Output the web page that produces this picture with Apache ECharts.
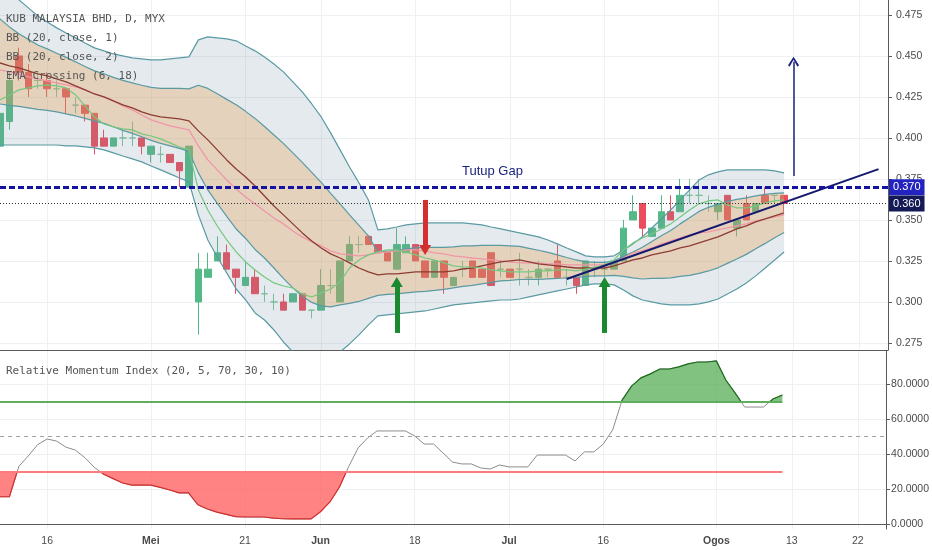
<!DOCTYPE html>
<html><head><meta charset="utf-8">
<script src="https://cdn.jsdelivr.net/npm/echarts@6/dist/echarts.min.js"></script>
<style>html,body{margin:0;padding:0;background:#fff}#c{width:932px;height:550px}</style>
</head><body><div id="c"></div>
<script>
const dates = ['2018-04-09','2018-04-10','2018-04-11','2018-04-12','2018-04-13','2018-04-16','2018-04-17','2018-04-18','2018-04-19','2018-04-20','2018-04-23','2018-04-24','2018-04-25','2018-04-26','2018-04-27','2018-04-30',
'2018-05-02','2018-05-03','2018-05-04','2018-05-07','2018-05-08','2018-05-14','2018-05-15','2018-05-16','2018-05-17','2018-05-18','2018-05-21','2018-05-22','2018-05-23','2018-05-24','2018-05-25','2018-05-28','2018-05-30','2018-05-31',
'2018-06-01','2018-06-04','2018-06-05','2018-06-06','2018-06-07','2018-06-08','2018-06-11','2018-06-12','2018-06-13','2018-06-14','2018-06-18','2018-06-19','2018-06-20','2018-06-21','2018-06-22','2018-06-25','2018-06-26','2018-06-27','2018-06-28','2018-06-29',
'2018-07-02','2018-07-03','2018-07-04','2018-07-05','2018-07-06','2018-07-09','2018-07-10','2018-07-11','2018-07-12','2018-07-13','2018-07-16','2018-07-17','2018-07-18','2018-07-19','2018-07-20','2018-07-23','2018-07-24','2018-07-25','2018-07-26','2018-07-27','2018-07-30','2018-07-31',
'2018-08-01','2018-08-02','2018-08-03','2018-08-06','2018-08-07','2018-08-08','2018-08-09','2018-08-10','2018-08-13','2018-08-14','2018-08-15','2018-08-16','2018-08-17','2018-08-20','2018-08-21','2018-08-22','2018-08-23','2018-08-24','2018-08-27'];
const tickDates = ['2018-04-16','2018-05-02','2018-05-21','2018-06-01','2018-06-18','2018-07-02','2018-07-16','2018-08-01','2018-08-13','2018-08-22'];
const tickLabels = ['16','Mei','21','Jun','18','Jul','16','Ogos','13','22'];
const priceTicks = [0.275,0.3,0.325,0.35,0.375,0.4,0.425,0.45,0.475];
const rmiTicks = [0,20,40,60,80];

const open = [0.395,0.41,0.45,0.44,0.435,0.435,0.43,0.43,0.42,0.42,
 0.415,0.40,0.395,0.40,0.40,0.40,0.39,0.39,0.39,0.385,
 0.37,0.30,0.315,0.325,0.33,0.32,0.31,0.315,0.305,0.30,
 0.30,0.30,0.305,0.295,0.295,0.31,0.30,0.325,0.335,0.34,
 0.335,0.33,0.32,0.33,0.335,0.325,0.315,0.325,0.31,0.32,
 0.325,0.32,0.33,0.32,0.32,0.32,0.315,0.315,0.32,0.325,
 0.315,0.315,0.31,0.32,0.32,0.32,0.325,0.35,0.36,0.34,
 0.345,0.355,0.355,0.365,0.365,0.36,0.355,0.365,0.345,0.36,
 0.355,0.365,0.365,0.365];
const close = [0.415,0.435,0.44,0.43,0.435,0.43,0.43,0.425,0.42,0.415,
 0.395,0.395,0.40,0.40,0.40,0.395,0.395,0.39,0.385,0.38,
 0.395,0.32,0.32,0.33,0.32,0.315,0.315,0.305,0.305,0.30,
 0.295,0.305,0.295,0.295,0.31,0.31,0.325,0.335,0.335,0.335,
 0.33,0.325,0.335,0.335,0.325,0.315,0.325,0.315,0.315,0.32,
 0.315,0.315,0.31,0.32,0.315,0.32,0.315,0.32,0.32,0.315,
 0.315,0.31,0.325,0.32,0.32,0.325,0.345,0.355,0.345,0.345,
 0.355,0.35,0.365,0.365,0.365,0.36,0.36,0.35,0.35,0.35,
 0.36,0.36,0.365,0.36];
const low = [0.39,0.405,0.435,0.425,0.43,0.425,0.425,0.415,0.415,0.41,
 0.39,0.395,0.395,0.395,0.395,0.39,0.385,0.385,0.385,0.37,
 0.37,0.28,0.315,0.325,0.32,0.305,0.31,0.305,0.30,0.295,
 0.295,0.30,0.295,0.29,0.295,0.305,0.30,0.325,0.33,0.335,
 0.33,0.325,0.32,0.33,0.325,0.315,0.315,0.305,0.31,0.315,
 0.315,0.315,0.31,0.315,0.315,0.31,0.31,0.31,0.315,0.315,
 0.31,0.305,0.31,0.315,0.315,0.32,0.325,0.35,0.34,0.34,
 0.345,0.35,0.355,0.36,0.36,0.355,0.35,0.35,0.34,0.35,
 0.355,0.36,0.36,0.355];
const high = [0.42,0.44,0.455,0.445,0.44,0.44,0.435,0.43,0.425,0.42,
 0.415,0.405,0.40,0.405,0.41,0.40,0.395,0.395,0.39,0.385,
 0.395,0.33,0.33,0.34,0.335,0.32,0.325,0.32,0.31,0.305,
 0.305,0.305,0.305,0.295,0.32,0.32,0.325,0.34,0.34,0.34,
 0.335,0.33,0.345,0.34,0.335,0.325,0.325,0.325,0.315,0.325,
 0.325,0.32,0.33,0.325,0.32,0.33,0.32,0.325,0.32,0.335,
 0.32,0.315,0.325,0.325,0.325,0.325,0.35,0.365,0.36,0.345,
 0.365,0.365,0.375,0.375,0.375,0.365,0.36,0.365,0.35,0.365,
 0.36,0.37,0.365,0.365];

const basis = [0.4457,0.4439,0.4427,0.4409,0.4390,0.4378,0.4360,0.4342,0.4317,0.4293,
 0.4268,0.4250,0.4226,0.4201,0.4183,0.4159,0.4140,0.4128,0.4122,0.4116,
 0.4104,0.4043,0.3988,0.3927,0.3866,0.3811,0.3762,0.3707,0.3646,0.3585,
 0.3531,0.3476,0.3421,0.3372,0.3329,0.3293,0.3268,0.3238,0.3207,0.3183,
 0.3165,0.3171,0.3171,0.3177,0.3183,0.3183,0.3183,0.3183,0.3189,0.3201,
 0.3207,0.3220,0.3232,0.3244,0.3250,0.3256,0.3244,0.3232,0.3226,0.3220,
 0.3213,0.3207,0.3207,0.3207,0.3207,0.3220,0.3238,0.3256,0.3268,0.3287,
 0.3299,0.3311,0.3329,0.3342,0.3360,0.3378,0.3397,0.3421,0.3445,0.3464,
 0.3488,0.3506,0.3525,0.3543];
const bb2Upper = [0.4994,0.4915,0.4842,0.4793,0.4744,0.4707,0.4671,0.4640,0.4610,0.4579,
 0.4549,0.4531,0.4512,0.4500,0.4488,0.4482,0.4476,0.4476,0.4482,0.4488,
 0.4494,0.4598,0.4616,0.4610,0.4604,0.4592,0.4561,0.4531,0.4494,0.4451,
 0.4403,0.4342,0.4281,0.4207,0.4128,0.4031,0.3927,0.3823,0.3726,0.3622,
 0.3439,0.3445,0.3457,0.3470,0.3476,0.3482,0.3482,0.3482,0.3482,0.3482,
 0.3476,0.3470,0.3457,0.3445,0.3433,0.3421,0.3409,0.3397,0.3378,0.3354,
 0.3329,0.3305,0.3281,0.3275,0.3275,0.3281,0.3317,0.3354,0.3397,0.3451,
 0.3506,0.3561,0.3622,0.3683,0.3744,0.3775,0.3793,0.3805,0.3805,0.3805,
 0.3805,0.3805,0.3799,0.3787];
const bb2Lower = [0.3957,0.3957,0.3957,0.3957,0.3957,0.3957,0.3957,0.3951,0.3951,0.3945,
 0.3939,0.3927,0.3909,0.3890,0.3872,0.3854,0.3829,0.3805,0.3781,0.3756,
 0.3732,0.3531,0.3378,0.3274,0.3177,0.3079,0.3012,0.2933,0.2890,0.2829,
 0.2756,0.2695,0.2646,0.2622,0.2622,0.2646,0.2695,0.2744,0.2799,0.2860,
 0.2915,0.2921,0.2927,0.2933,0.2939,0.2945,0.2957,0.2970,0.2982,0.2988,
 0.2994,0.3000,0.3006,0.3012,0.3012,0.3018,0.3031,0.3043,0.3055,0.3067,
 0.3079,0.3091,0.3104,0.3110,0.3110,0.3104,0.3073,0.3037,0.3012,0.3000,
 0.2988,0.2982,0.2982,0.2982,0.2988,0.3000,0.3018,0.3049,0.3079,0.3116,
 0.3159,0.3207,0.3256,0.3305];
const bb1Upper = [0.4726,0.4677,0.4635,0.4601,0.4567,0.4543,0.4516,0.4491,0.4464,0.4436,
 0.4409,0.4391,0.4369,0.4351,0.4336,0.4321,0.4308,0.4302,0.4302,0.4302,
 0.4299,0.4321,0.4302,0.4269,0.4235,0.4202,0.4162,0.4119,0.4070,0.4018,
 0.3967,0.3909,0.3851,0.3790,0.3729,0.3662,0.3598,0.3531,0.3467,0.3403,
 0.3302,0.3308,0.3314,0.3324,0.3330,0.3333,0.3333,0.3333,0.3336,0.3342,
 0.3342,0.3345,0.3345,0.3345,0.3342,0.3339,0.3327,0.3315,0.3302,0.3287,
 0.3271,0.3256,0.3244,0.3241,0.3241,0.3251,0.3278,0.3305,0.3333,0.3369,
 0.3403,0.3436,0.3476,0.3513,0.3552,0.3577,0.3595,0.3613,0.3625,0.3635,
 0.3647,0.3656,0.3662,0.3665];
const bb1Lower = [0.4207,0.4198,0.4192,0.4183,0.4174,0.4168,0.4159,0.4147,0.4134,0.4119,
 0.4104,0.4089,0.4068,0.4046,0.4028,0.4007,0.3985,0.3967,0.3952,0.3936,
 0.3918,0.3787,0.3683,0.3601,0.3522,0.3445,0.3387,0.3320,0.3268,0.3207,
 0.3144,0.3086,0.3034,0.2997,0.2976,0.2970,0.2982,0.2991,0.3003,0.3022,
 0.3040,0.3046,0.3049,0.3055,0.3061,0.3064,0.3070,0.3077,0.3086,0.3095,
 0.3101,0.3110,0.3119,0.3128,0.3131,0.3137,0.3138,0.3138,0.3141,0.3144,
 0.3146,0.3149,0.3156,0.3159,0.3159,0.3162,0.3156,0.3147,0.3140,0.3144,
 0.3144,0.3147,0.3156,0.3162,0.3174,0.3189,0.3208,0.3235,0.3262,0.3290,
 0.3324,0.3357,0.3391,0.3424];
const ema18 = [0.4415,0.4403,0.4390,0.4372,0.4360,0.4348,0.4335,0.4323,0.4311,0.4293,
 0.4268,0.4250,0.4226,0.4195,0.4171,0.4140,0.4110,0.4092,0.4073,0.4061,
 0.4049,0.3951,0.3866,0.3805,0.3744,0.3689,0.3640,0.3598,0.3555,0.3512,
 0.3476,0.3433,0.3397,0.3366,0.3342,0.3311,0.3293,0.3287,0.3281,0.3287,
 0.3299,0.3305,0.3311,0.3317,0.3317,0.3311,0.3299,0.3293,0.3281,0.3275,
 0.3268,0.3262,0.3256,0.3250,0.3244,0.3238,0.3238,0.3238,0.3232,0.3232,
 0.3226,0.3226,0.3226,0.3226,0.3226,0.3238,0.3268,0.3299,0.3311,0.3329,
 0.3354,0.3372,0.3390,0.3409,0.3421,0.3427,0.3439,0.3451,0.3464,0.3476,
 0.3494,0.3506,0.3518,0.3531];
const ema6 = [0.4232,0.4262,0.4293,0.4305,0.4317,0.4323,0.4317,0.4305,0.4262,0.4195,
 0.4128,0.4085,0.4067,0.4055,0.4049,0.4025,0.4012,0.3994,0.3970,0.3945,
 0.3927,0.3683,0.3561,0.3463,0.3378,0.3305,0.3244,0.3195,0.3152,0.3116,
 0.3097,0.3085,0.3049,0.3030,0.3055,0.3079,0.3122,0.3207,0.3256,0.3287,
 0.3305,0.3317,0.3317,0.3305,0.3287,0.3268,0.3256,0.3238,0.3220,0.3213,
 0.3213,0.3207,0.3195,0.3189,0.3183,0.3183,0.3183,0.3189,0.3189,0.3195,
 0.3195,0.3189,0.3201,0.3213,0.3226,0.3256,0.3317,0.3360,0.3390,0.3415,
 0.3445,0.3476,0.3518,0.3561,0.3598,0.3616,0.3622,0.3592,0.3573,0.3573,
 0.3586,0.3604,0.3616,0.3622];
const rmi = [15.6,15.6,33,39,45.5,48.7,47.5,44,42.3,38,
 32.5,28.5,26,23.5,22.3,22.3,22.3,21,19.5,17.8,
 17.8,11,8.6,6.8,5.5,4.2,4.0,4.0,4.0,3.4,
 3.0,2.9,2.9,2.9,7,12.6,21,33,43.6,49.3,
 53.3,53.3,53.3,53.3,50.4,45.8,45.8,40.7,35.5,34.4,
 34.4,32.1,31.5,33.8,32.7,32.7,32.7,39.5,39.5,39.5,
 39.5,36.1,41.3,41.3,45.8,53.9,71,79,83.7,86,
 88.8,88.8,90,91.7,92.8,92.8,93.4,82.5,75,67,
 67,67,71.6,73.9];

const gapLevel = 0.370, lastPrice = 0.360;
const rmiUpper = 70, rmiMid = 50, rmiLower = 30;
// annotations: [date, fromValue, toValue]
const redArrow = ['2018-06-19', 0.3622, 0.3317];
const greenArrows = [['2018-06-13', 0.2811, 0.3122], ['2018-07-16', 0.2811, 0.3122]];
const targetArrow = ['2018-08-13', 0.3768, 0.4464];
const trendLine = [['2018-07-10', 0.314], ['2018-08-24', 0.381]];

const isTick = (idx, val) => tickDates.indexOf(val) >= 0;
const last = dates[close.length - 1];

function bandFill(upper, lower, fill, z) {
  return {
    type: 'custom', xAxisIndex: 0, yAxisIndex: 0, z: z, silent: true, clip: true,
    data: [[0, upper[0]]],
    renderItem: function (params, api) {
      const pts = [];
      for (let i = 0; i < upper.length; i++) pts.push(api.coord([i, upper[i]]));
      for (let i = lower.length - 1; i >= 0; i--) pts.push(api.coord([i, lower[i]]));
      const cs = params.coordSys;
      return { type: 'polygon', shape: { points: pts }, style: { fill: fill },
        clipPath: { type: 'rect', shape: { x: cs.x, y: cs.y, width: cs.width, height: cs.height } } };
    }
  };
}
function rmiZone(level, above, fill, stroke) {
  return {
    type: 'custom', xAxisIndex: 1, yAxisIndex: 1, z: 4, silent: true,
    data: [[0, level]],
    renderItem: function (params, api) {
      const cs = params.coordSys;
      const yl = api.coord([0, level])[1];
      const line = rmi.map((v, i) => api.coord([i, v]));
      const poly = line.concat([[line[line.length - 1][0], yl], [line[0][0], yl]]);
      const clip = above ? { x: cs.x, y: cs.y, width: cs.width, height: yl - cs.y }
                         : { x: cs.x, y: yl, width: cs.width, height: cs.y + cs.height - yl };
      return { type: 'group', children: [
        { type: 'polygon', shape: { points: poly }, style: { fill: fill }, clipPath: { type: 'rect', shape: clip } },
        { type: 'polyline', shape: { points: line }, style: { stroke: stroke, lineWidth: 1.2, fill: null }, clipPath: { type: 'rect', shape: clip } }
      ]};
    }
  };
}
function lineS(data, color, width, z) {
  return { type: 'line', xAxisIndex: 0, yAxisIndex: 0, data: data, symbol: 'none', silent: true,
    z: z, lineStyle: { color: color, width: width }, animation: false };
}
function arrow(spec, color, width, sym, size) {
  return [
    { coord: [spec[0], spec[1]], symbol: 'none', lineStyle: { color: color, width: width, type: 'solid' } },
    { coord: [spec[0], spec[2]], symbol: sym, symbolSize: size }
  ];
}

const chart = echarts.init(document.getElementById('c'), null, { renderer: 'canvas' });
const axisColor = '#5a5a5a', labelColor = '#4a4a4a', gridColor = '#edf1f4';
const option = {
  animation: false,
  backgroundColor: '#ffffff',
  textStyle: { fontFamily: 'Liberation Sans' },
  grid: [
    { left: 0, right: 44, top: 0, height: 350 },
    { left: 0, right: 44, top: 351, height: 178 }
  ],
  xAxis: [
    { type: 'category', gridIndex: 0, data: dates, boundaryGap: false,
      axisLine: { show: true, lineStyle: { color: axisColor } }, axisTick: { show: false }, axisLabel: { show: false },
      splitLine: { show: true, interval: isTick, lineStyle: { color: gridColor } } },
    { type: 'category', gridIndex: 1, data: dates, boundaryGap: false,
      axisLine: { show: true, lineStyle: { color: axisColor } }, axisTick: { show: false },
      axisLabel: { show: true, interval: isTick, color: labelColor, fontSize: 10.5, margin: 7,
        formatter: function (v) { const k = tickDates.indexOf(v); const t = tickLabels[k];
          return /^[0-9]+$/.test(t) ? t : '{b|' + t + '}'; },
        rich: { b: { fontWeight: 'bold', fontSize: 10.5, color: labelColor } } },
      splitLine: { show: true, interval: isTick, lineStyle: { color: gridColor } } }
  ],
  yAxis: [
    { type: 'value', gridIndex: 0, position: 'right', min: 0.2707, max: 0.4841,
      axisLine: { show: true, lineStyle: { color: axisColor } },
      axisTick: { show: true, customValues: priceTicks, length: 4, lineStyle: { color: axisColor } },
      axisLabel: { customValues: priceTicks, formatter: v => v.toFixed(3), color: labelColor, fontSize: 10.5, margin: 8 },
      splitLine: { show: true, lineStyle: { color: gridColor } } },
    { type: 'value', gridIndex: 1, position: 'right', min: -2.87, max: 99.1,
      axisLine: { show: true, lineStyle: { color: axisColor } },
      axisTick: { show: true, customValues: rmiTicks, length: 4, lineStyle: { color: axisColor } },
      axisLabel: { customValues: rmiTicks, formatter: v => v.toFixed(4), color: labelColor, fontSize: 10.5, margin: 5 },
      splitLine: { show: true, lineStyle: { color: gridColor } } }
  ],
  graphic: [
    { type: 'text', left: 6, top: 14, z: 100, style: { text: 'KUB MALAYSIA BHD, D, MYX', font: '11px "DejaVu Sans Mono"', fill: '#555' } },
    { type: 'text', left: 6, top: 33, z: 100, style: { text: 'BB (20, close, 1)', font: '11px "DejaVu Sans Mono"', fill: '#555' } },
    { type: 'text', left: 6, top: 52, z: 100, style: { text: 'BB (20, close, 2)', font: '11px "DejaVu Sans Mono"', fill: '#555' } },
    { type: 'text', left: 6, top: 71, z: 100, style: { text: 'EMA Crossing (6, 18)', font: '11px "DejaVu Sans Mono"', fill: '#555' } },
    { type: 'text', left: 6, top: 366, z: 100, style: { text: 'Relative Momentum Index (20, 5, 70, 30, 10)', font: '11px "DejaVu Sans Mono"', fill: '#555' } },
    { type: 'text', left: 462, top: 165, z: 100, style: { text: 'Tutup Gap', font: '13px "Liberation Sans"', fill: '#1a237e' } }
  ],
  series: [
    { type: 'candlestick', xAxisIndex: 0, yAxisIndex: 0, z: 1, silent: true, barWidth: 7,
      data: open.map((o, i) => [o, close[i], low[i], high[i]]),
      itemStyle: { color: '#53b987', color0: '#eb4d5c', borderColor: '#53b987', borderColor0: '#eb4d5c', borderColorDoji: '#7cc49c', borderWidth: 1 },
      markLine: { silent: true, symbol: 'none', label: { show: false },
        data: [[ { coord: trendLine[0], lineStyle: { color: '#14196e', width: 2, type: 'solid' } }, { coord: trendLine[1] } ]] } },
    bandFill(bb2Upper, bb2Lower, 'rgba(120,150,165,0.2)', 2),
    bandFill(bb1Upper, bb1Lower, 'rgba(232,154,77,0.3)', 2),
    lineS(bb2Upper, '#5a9aa3', 1.2, 3),
    lineS(bb2Lower, '#5a9aa3', 1.2, 3),
    lineS(bb1Upper, '#5a9aa3', 1.2, 3),
    lineS(bb1Lower, '#5a9aa3', 1.2, 3),
    lineS(ema18, '#f096a8', 1.3, 3),
    lineS(basis, '#8c3c32', 1.3, 3),
    lineS(ema6, '#75c77f', 1.2, 3),
    { type: 'line', xAxisIndex: 0, yAxisIndex: 0, data: close, symbol: 'none', silent: true, z: 10,
      lineStyle: { opacity: 0 },
      markLine: { silent: true, symbol: 'none', label: { show: false }, precision: 3,
        data: [
          { yAxis: gapLevel, lineStyle: { color: '#1414a0', width: 3, type: [6, 3] },
            label: { show: true, position: 'end', formatter: gapLevel.toFixed(3), color: '#fff', backgroundColor: '#2323c0', padding: [3, 4, 2, 4], fontSize: 11, distance: 1 } },
          { yAxis: lastPrice, lineStyle: { color: '#333', width: 1, type: [1, 2] },
            label: { show: true, position: 'end', formatter: lastPrice.toFixed(3), color: '#fff', backgroundColor: '#131a55', padding: [3, 4, 2, 4], fontSize: 11, distance: 1 } },
          arrow(redArrow, '#d32f2f', 5, 'triangle', [12, 10]),
          arrow(greenArrows[0], '#1b8a2e', 5, 'triangle', [12, 10]),
          arrow(greenArrows[1], '#1b8a2e', 5, 'triangle', [12, 10]),
          arrow(targetArrow, '#1a237e', 1.5, 'path://M5,0 L10,8 L8.6,9.4 L5,2.8 L1.4,9.4 L0,8 Z', [11, 10])
        ] } },
    { type: 'line', xAxisIndex: 1, yAxisIndex: 1, data: rmi, symbol: 'none', silent: true, z: 3,
      lineStyle: { color: '#8c8c8c', width: 1 },
      markLine: { silent: true, symbol: 'none', label: { show: false },
        data: [
          [ { coord: [dates[0], rmiUpper], lineStyle: { color: '#5fae5f', width: 1.8, type: 'solid' } }, { coord: [last, rmiUpper] } ],
          [ { coord: [dates[0], rmiLower], lineStyle: { color: '#ff7b7b', width: 2, type: 'solid' } }, { coord: [last, rmiLower] } ],
          { yAxis: rmiMid, lineStyle: { color: '#a0a0a0', width: 1, type: [4, 4] } }
        ] } },
    rmiZone(rmiUpper, true, 'rgba(76,168,76,0.7)', '#1e6b1e'),
    rmiZone(rmiLower, false, 'rgba(255,100,100,0.8)', '#d32f2f')
  ]
};
chart.setOption(option);
</script>
</body></html>
